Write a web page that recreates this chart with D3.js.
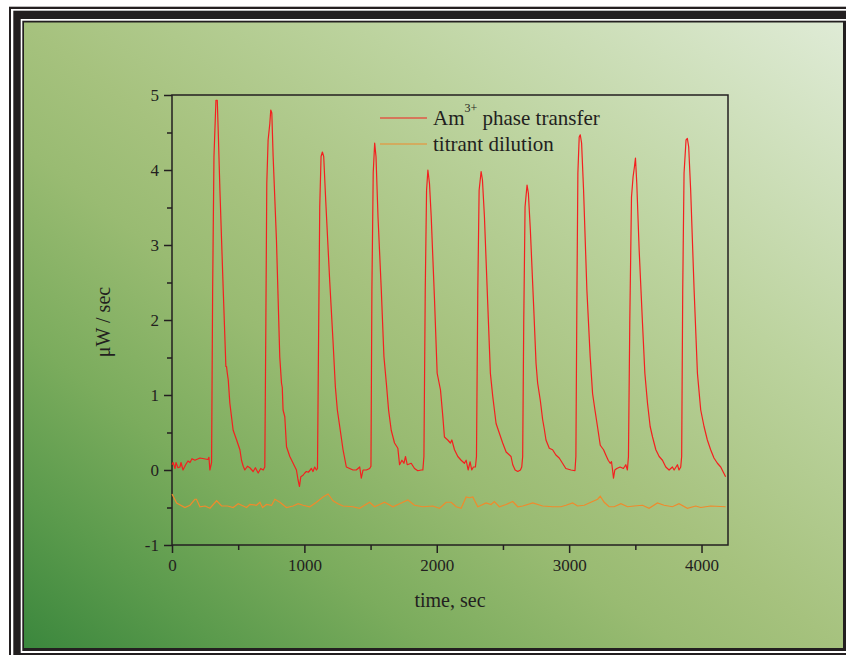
<!DOCTYPE html>
<html>
<head>
<meta charset="utf-8">
<script src="https://cdn.jsdelivr.net/npm/d3@7"></script>
<style>
  body { margin: 0; background: #fff; }
  svg { display: block; }
</style>
</head>
<body>
<div id="chart"></div>
<script>
// [time (sec), μW/sec]
const phaseTransfer = [
  [0,0.07],[8,0.1],[23,0.02],[30,0.1],[45,0.03],[60,0.04],[68,0.1],[83,0.0],[106,0.08],[121,0.12],
  [136,0.1],[151,0.15],[173,0.13],[211,0.16],[241,0.15],[271,0.14],[279,0.17],[286,0.0],
  [299,0.1],[307,2.4],[317,4.18],[332,4.93],[342,4.93],[349,4.53],[362,3.73],[387,2.4],[407,1.38],
  [412,1.38],[417,1.3],[425,1.2],[437,0.89],[462,0.53],[488,0.4],[513,0.27],[525,0.13],[538,0.05],
  [550,0.0],[570,0.05],[588,0.03],[613,-0.02],[630,0.03],[651,-0.04],[670,0.02],[689,0.0],[701,0.04],
  [709,1.96],[716,3.82],[726,4.4],[739,4.62],[746,4.8],[754,4.76],[764,4.18],[789,3.07],[814,1.51],
  [827,1.16],[833,1.1],[839,0.8],[852,0.71],[865,0.31],[890,0.18],[915,0.09],[940,0.0],[952,-0.13],
  [963,-0.22],[973,-0.09],[990,-0.07],[1003,-0.04],[1015,-0.02],[1030,-0.03],[1053,0.02],[1065,-0.02],
  [1078,0.04],[1091,0.0],
  [1099,0.02],[1106,1.51],[1116,3.51],[1126,4.18],[1136,4.24],[1146,4.18],[1161,3.6],[1191,2.53],
  [1216,1.73],[1234,1.11],[1249,0.8],[1267,0.58],[1292,0.27],[1317,0.04],[1342,0.02],[1367,0.0],
  [1392,0.0],[1418,0.04],[1430,-0.11],[1443,0.0],[1468,0.0],[1493,0.02],
  [1503,0.05],[1510,2.4],[1520,3.96],[1531,4.36],[1541,4.18],[1556,3.38],[1581,2.4],[1601,1.51],
  [1619,1.16],[1636,0.8],[1656,0.53],[1681,0.36],[1706,0.29],[1719,0.07],[1737,0.13],[1752,0.09],
  [1764,0.18],[1777,0.07],[1807,0.09],[1832,0.02],[1857,-0.01],[1882,0.0],[1895,0.0],
  [1903,0.18],[1913,2.4],[1923,3.73],[1933,4.0],[1945,3.82],[1958,3.38],[1983,2.27],[2003,1.29],
  [2028,1.07],[2046,0.71],[2058,0.44],[2083,0.4],[2103,0.36],[2114,0.4],[2134,0.27],[2159,0.18],
  [2184,0.13],[2209,0.09],[2222,0.13],[2237,0.0],[2252,0.11],[2264,0.0],[2277,0.04],[2292,0.04],
  [2300,0.18],[2310,2.4],[2320,3.73],[2335,3.98],[2345,3.87],[2360,3.38],[2385,2.22],[2405,1.29],
  [2423,0.98],[2448,0.62],[2473,0.49],[2498,0.36],[2524,0.24],[2549,0.2],[2561,0.18],[2574,0.07],
  [2592,0.0],[2612,-0.02],[2632,0.0],[2642,0.04],
  [2649,0.18],[2657,1.96],[2667,3.51],[2682,3.8],[2692,3.69],[2707,3.2],[2732,2.18],[2750,1.42],
  [2762,1.16],[2782,0.93],[2800,0.67],[2812,0.55],[2825,0.4],[2850,0.29],[2875,0.27],[2900,0.2],
  [2925,0.16],[2950,0.09],[2975,0.02],[3014,0.0],[3044,-0.01],
  [3051,0.18],[3059,2.4],[3066,3.96],[3076,4.44],[3084,4.47],[3094,4.36],[3109,3.73],[3134,2.4],
  [3159,1.51],[3177,1.02],[3195,0.8],[3214,0.58],[3235,0.33],[3260,0.27],[3277,0.2],[3295,0.13],
  [3310,0.09],[3320,0.11],[3328,0.0],[3335,-0.11],[3345,0.0],[3360,0.02],[3385,0.04],[3410,0.02],
  [3428,0.07],[3440,0.0],
  [3448,0.18],[3458,1.96],[3471,3.64],[3483,3.91],[3493,4.04],[3501,4.16],[3511,3.82],[3529,2.93],
  [3554,1.96],[3572,1.29],[3592,0.89],[3612,0.58],[3630,0.44],[3655,0.27],[3680,0.18],[3705,0.13],
  [3730,0.04],[3755,0.0],[3780,0.04],[3793,0.0],[3818,0.07],[3830,0.0],[3843,0.04],
  [3850,0.18],[3858,2.4],[3868,3.96],[3883,4.4],[3893,4.42],[3903,4.31],[3918,3.73],[3944,2.4],
  [3969,1.29],[3994,0.8],[4019,0.58],[4044,0.4],[4069,0.27],[4094,0.16],[4120,0.09],[4145,0.04],
  [4182,-0.09]
];

const titrantDilution = [
  [0,-0.32],[35,-0.44],[98,-0.5],[136,-0.47],[173,-0.39],[185,-0.39],[211,-0.49],[250,-0.48],
  [287,-0.51],[337,-0.41],[375,-0.48],[420,-0.48],[462,-0.5],[500,-0.45],[538,-0.48],[563,-0.5],
  [588,-0.46],[638,-0.47],[664,-0.43],[684,-0.5],[714,-0.46],[752,-0.47],[777,-0.39],[815,-0.43],
  [865,-0.5],[915,-0.48],[953,-0.45],[990,-0.47],[1041,-0.49],[1091,-0.43],[1141,-0.36],[1179,-0.32],
  [1216,-0.41],[1254,-0.45],[1292,-0.48],[1367,-0.49],[1417,-0.51],[1455,-0.47],[1493,-0.43],
  [1530,-0.49],[1606,-0.43],[1669,-0.49],[1719,-0.45],[1782,-0.4],[1832,-0.47],[1895,-0.49],
  [1970,-0.48],[2021,-0.51],[2071,-0.43],[2109,-0.43],[2147,-0.49],[2184,-0.51],[2222,-0.36],
  [2247,-0.37],[2272,-0.36],[2310,-0.49],[2373,-0.44],[2410,-0.46],[2435,-0.42],[2473,-0.49],
  [2524,-0.46],[2574,-0.42],[2612,-0.49],[2650,-0.48],[2725,-0.44],[2800,-0.48],[2875,-0.49],
  [2938,-0.49],[2976,-0.47],[3026,-0.44],[3064,-0.48],[3114,-0.47],[3177,-0.42],[3215,-0.39],
  [3235,-0.35],[3265,-0.43],[3302,-0.49],[3340,-0.49],[3391,-0.45],[3441,-0.49],[3491,-0.48],
  [3554,-0.47],[3604,-0.51],[3667,-0.44],[3717,-0.47],[3780,-0.49],[3830,-0.45],[3893,-0.51],
  [3956,-0.48],[3994,-0.5],[4069,-0.48],[4182,-0.49]
];

const xMajorTicks = [0, 1000, 2000, 3000, 4000];
const xMinorTicks = [500, 1500, 2500, 3500];
const yMajorTicks = [-1, 0, 1, 2, 3, 4, 5];
const yMinorTicks = [-0.5, 0.5, 1.5, 2.5, 3.5, 4.5];
const seriesNames = ["phase transfer", "titrant dilution"];
const seriesColors = ["#f41f1f", "#f08a2c"];

const W = 846, H = 655;
const margin = { top: 95, right: 118, bottom: 110, left: 172 };
const width = W - margin.left - margin.right;
const height = H - margin.top - margin.bottom;
const serif = "'Liberation Serif', 'Times New Roman', serif";
const ink = "#231f20";

const svg = d3.select("#chart").append("svg")
    .attr("width", W)
    .attr("height", H);

// gradient background
const defs = svg.append("defs");
const grad = defs.append("linearGradient")
    .attr("id", "bg")
    .attr("x1", 0).attr("y1", 1).attr("x2", 1).attr("y2", 0);
[[0, "#3b873d"], [0.12, "#5a9a4c"], [0.25, "#7bac5d"], [0.4, "#99bb72"],
 [0.5, "#a6c27e"], [0.7, "#bcd39e"], [1, "#dfebd6"]].forEach(function(s) {
    grad.append("stop").attr("offset", s[0]).attr("stop-color", s[1]);
});

// picture frame
svg.append("rect").attr("x", 9).attr("y", 6.7).attr("width", 900).attr("height", 700).attr("fill", ink);
svg.append("rect").attr("x", 11).attr("y", 9).attr("width", 900).attr("height", 700).attr("fill", "#fff");
svg.append("rect").attr("x", 13.3).attr("y", 10.7).attr("width", 900).attr("height", 700).attr("fill", ink);
svg.append("rect").attr("x", 20.7).attr("y", 19).attr("width", 900).attr("height", 634).attr("fill", "#fff");
svg.append("rect").attr("x", 22.3).attr("y", 20.7).attr("width", 900).attr("height", 630.3).attr("fill", ink);
svg.append("rect").attr("x", 24).attr("y", 22.5).attr("width", 819).attr("height", 625.5).attr("fill", "url(#bg)");

const g = svg.append("g")
    .attr("transform", "translate(" + margin.left + "," + margin.top + ")");

const x = d3.scaleLinear().domain([0, 4200]).range([0, width]);
const y = d3.scaleLinear().domain([-1, 5]).range([height, 0]);

// plot box
g.append("rect")
    .attr("width", width).attr("height", height)
    .attr("fill", "none").attr("stroke", ink).attr("stroke-width", 1.5);

// axes (plain hyphen for negatives, like the original)
const plain = function(d) { return String(d); };
const xAxis = g.append("g")
    .attr("transform", "translate(0," + height + ")")
    .call(d3.axisBottom(x).tickValues(xMajorTicks).tickSize(8).tickPadding(6).tickFormat(plain));
const xMinor = g.append("g")
    .attr("transform", "translate(0," + height + ")")
    .call(d3.axisBottom(x).tickValues(xMinorTicks).tickSize(5).tickFormat(""));
const yAxis = g.append("g")
    .call(d3.axisLeft(y).tickValues(yMajorTicks).tickSize(8).tickPadding(5).tickFormat(plain));
const yMinor = g.append("g")
    .call(d3.axisLeft(y).tickValues(yMinorTicks).tickSize(5).tickFormat(""));

[xAxis, xMinor, yAxis, yMinor].forEach(function(a) {
    a.select(".domain").remove();
    a.selectAll("line").attr("stroke", ink).attr("stroke-width", 1.5);
    a.selectAll("text")
        .attr("fill", ink)
        .style("font-family", serif)
        .style("font-size", "17px");
});

// lines
const line = d3.line()
    .x(function(d) { return x(d[0]); })
    .y(function(d) { return y(d[1]); });

g.append("path")
    .datum(titrantDilution)
    .attr("fill", "none")
    .attr("stroke", seriesColors[1])
    .attr("stroke-width", 1.2)
    .attr("d", line);

g.append("path")
    .datum(phaseTransfer)
    .attr("fill", "none")
    .attr("stroke", seriesColors[0])
    .attr("stroke-width", 1.2)
    .attr("stroke-linejoin", "round")
    .attr("d", line);

// axis titles
g.append("text")
    .attr("x", 278).attr("y", 512)
    .attr("text-anchor", "middle")
    .attr("fill", ink)
    .style("font-family", serif).style("font-size", "20px")
    .text("time, sec");

g.append("text")
    .attr("transform", "translate(-62," + 227 + ") rotate(-90)")
    .attr("text-anchor", "middle")
    .attr("fill", ink)
    .style("font-family", serif).style("font-size", "20px")
    .text("μW / sec");

// legend
const legend = g.append("g").attr("transform", "translate(208,23)");
seriesNames.forEach(function(name, i) {
    const row = legend.append("g").attr("transform", "translate(0," + (i * 26) + ")");
    row.append("line")
        .attr("x1", 0).attr("x2", 47)
        .attr("stroke", seriesColors[i]).attr("stroke-width", 1.2);
    const t = row.append("text")
        .attr("x", 53).attr("y", 7)
        .attr("fill", ink)
        .style("font-family", serif).style("font-size", "21px");
    if (i === 0) {
        t.append("tspan").text("Am");
        t.append("tspan").attr("dy", -13).style("font-size", "12px").text("3+");
        t.append("tspan").attr("dy", 13).text(" " + name);
    } else {
        t.text(name);
    }
});
</script>
</body>
</html>
